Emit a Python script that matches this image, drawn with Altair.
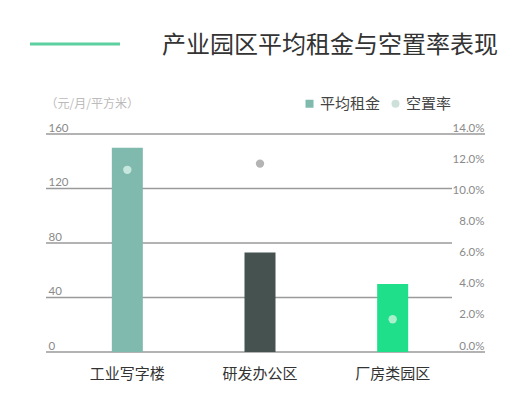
import altair as alt
import pandas as pd

# ---- data ----
categories = ["工业写字楼", "研发办公区", "厂房类园区"]
rent = [150, 73, 50]
vacancy = [0.117, 0.121, 0.021]
rent_ticks = [0, 40, 80, 120, 160]
rent_edges = [0, 160]
rent_inner = [40, 80, 120]
vacancy_ticks = [0.0, 0.02, 0.04, 0.06, 0.08, 0.10, 0.12, 0.14]
legend_labels = ["平均租金", "空置率"]
title_text = "产业园区平均租金与空置率表现"
unit_text = "（元/月/平方米）"

# ---- styles ----
bar_colors = ["#80b9ae", "#455250", "#20df8b"]
point_colors = ["#c6e7dd", "#b4b4b4", "#a9f1cd"]
legend_colors = ["#80b9ae", "#cde0d9"]
grid_color = "#9a9a9a"
CJK = "Noto Sans CJK SC"

W, H = 439, 218

df = pd.DataFrame({"category": categories, "rent": rent, "vacancy": vacancy})
edges_df = pd.DataFrame({"v": rent_edges})
inner_df = pd.DataFrame({"v": rent_inner})
legend_df = pd.DataFrame({"series": legend_labels})

x_enc = alt.X(
    "category:N", sort=categories,
    scale=alt.Scale(range=[15, 413], paddingInner=0, paddingOuter=0),
    axis=alt.Axis(title=None, labelAngle=0, domain=False, ticks=False,
                  labelPadding=14, labelFontSize=15, labelColor="#333",
                  labelFont=CJK),
)

y_scale = alt.Scale(domain=[0, 160])
y_axis = alt.Axis(
    values=rent_ticks, title=unit_text, titleAngle=0, titleX=-1, titleY=-31,
    titleAlign="left", titleBaseline="middle", titleColor="#bbbbbb",
    titleFontSize=12, titleFontWeight="normal", titleFont=CJK,
    labelAlign="left", labelBaseline="bottom", labelPadding=-2, labelOffset=-1,
    labelFontSize=11.5, labelColor="#8a8a8a", labelFont="Lato",
    domain=False, ticks=False, tickSize=0, grid=False,
)

grid_full = alt.Chart(edges_df).mark_rule(color=grid_color, strokeWidth=1.3).encode(
    y=alt.Y("v:Q", scale=y_scale, axis=y_axis),
    x=alt.value(0), x2=alt.value(W),
)
grid_mid = alt.Chart(inner_df).mark_rule(color=grid_color, strokeWidth=1.3).encode(
    y=alt.Y("v:Q", scale=y_scale, axis=y_axis),
    x=alt.value(0), x2=alt.value(W - 33),
)
bars = alt.Chart(df).mark_bar(size=31).encode(
    x=x_enc,
    y=alt.Y("rent:Q", scale=y_scale, axis=y_axis),
    color=alt.Color("category:N", scale=alt.Scale(domain=categories, range=bar_colors), legend=None),
)
left = alt.layer(grid_full, grid_mid, bars)

points = alt.Chart(df).mark_circle(size=70, opacity=1).encode(
    x=x_enc,
    y=alt.Y("vacancy:Q", scale=alt.Scale(domain=[0, 0.14]),
            axis=alt.Axis(orient="right", values=vacancy_ticks, format=".1%",
                          title=None, labelAlign="right", labelBaseline="bottom",
                          labelPadding=-1, labelOffset=-1, labelFontSize=11.5,
                          labelColor="#8a8a8a", labelFont="Lato", domain=False,
                          ticks=False, tickSize=0, grid=False)),
    color=alt.Color("category:N", scale=alt.Scale(domain=categories, range=point_colors), legend=None),
)

leg = alt.Legend(title=None, orient="none", legendX=256, legendY=-38,
                 direction="horizontal", symbolOpacity=1,
                 symbolSize=64, labelFontSize=15, labelColor="#444",
                 labelFont=CJK, labelOffset=3, columnPadding=7,
                 padding=0)
legend_layer = alt.Chart(legend_df).mark_point(filled=True, opacity=0).encode(
    color=alt.Color("series:N", sort=legend_labels,
                    scale=alt.Scale(domain=legend_labels, range=legend_colors),
                    legend=leg),
    shape=alt.Shape("series:N", sort=legend_labels,
                    scale=alt.Scale(domain=legend_labels, range=["square", "circle"]),
                    legend=leg),
)

deco = alt.Chart(pd.DataFrame({"k": [0]})).mark_rule(color="#5dd0a0", strokeWidth=3).encode(
    x=alt.value(-16), x2=alt.value(74), y=alt.value(-90),
)

chart = alt.layer(deco, left, points, legend_layer).resolve_scale(
    y="independent", color="independent", shape="independent"
).properties(
    width=W, height=H,
    title=alt.TitleParams(text=title_text, anchor="start", frame="group", dx=116,
                          offset=0, dy=15, fontSize=24, font=CJK, fontWeight="normal",
                          color="#333"),
    autosize=alt.AutoSizeParams(type="none"),
    padding={"left": 38, "top": 126, "right": 25, "bottom": 38},
    background="white",
).configure_view(stroke=None)

chart.save("out.html", embed_options={"renderer": "svg", "actions": False})
